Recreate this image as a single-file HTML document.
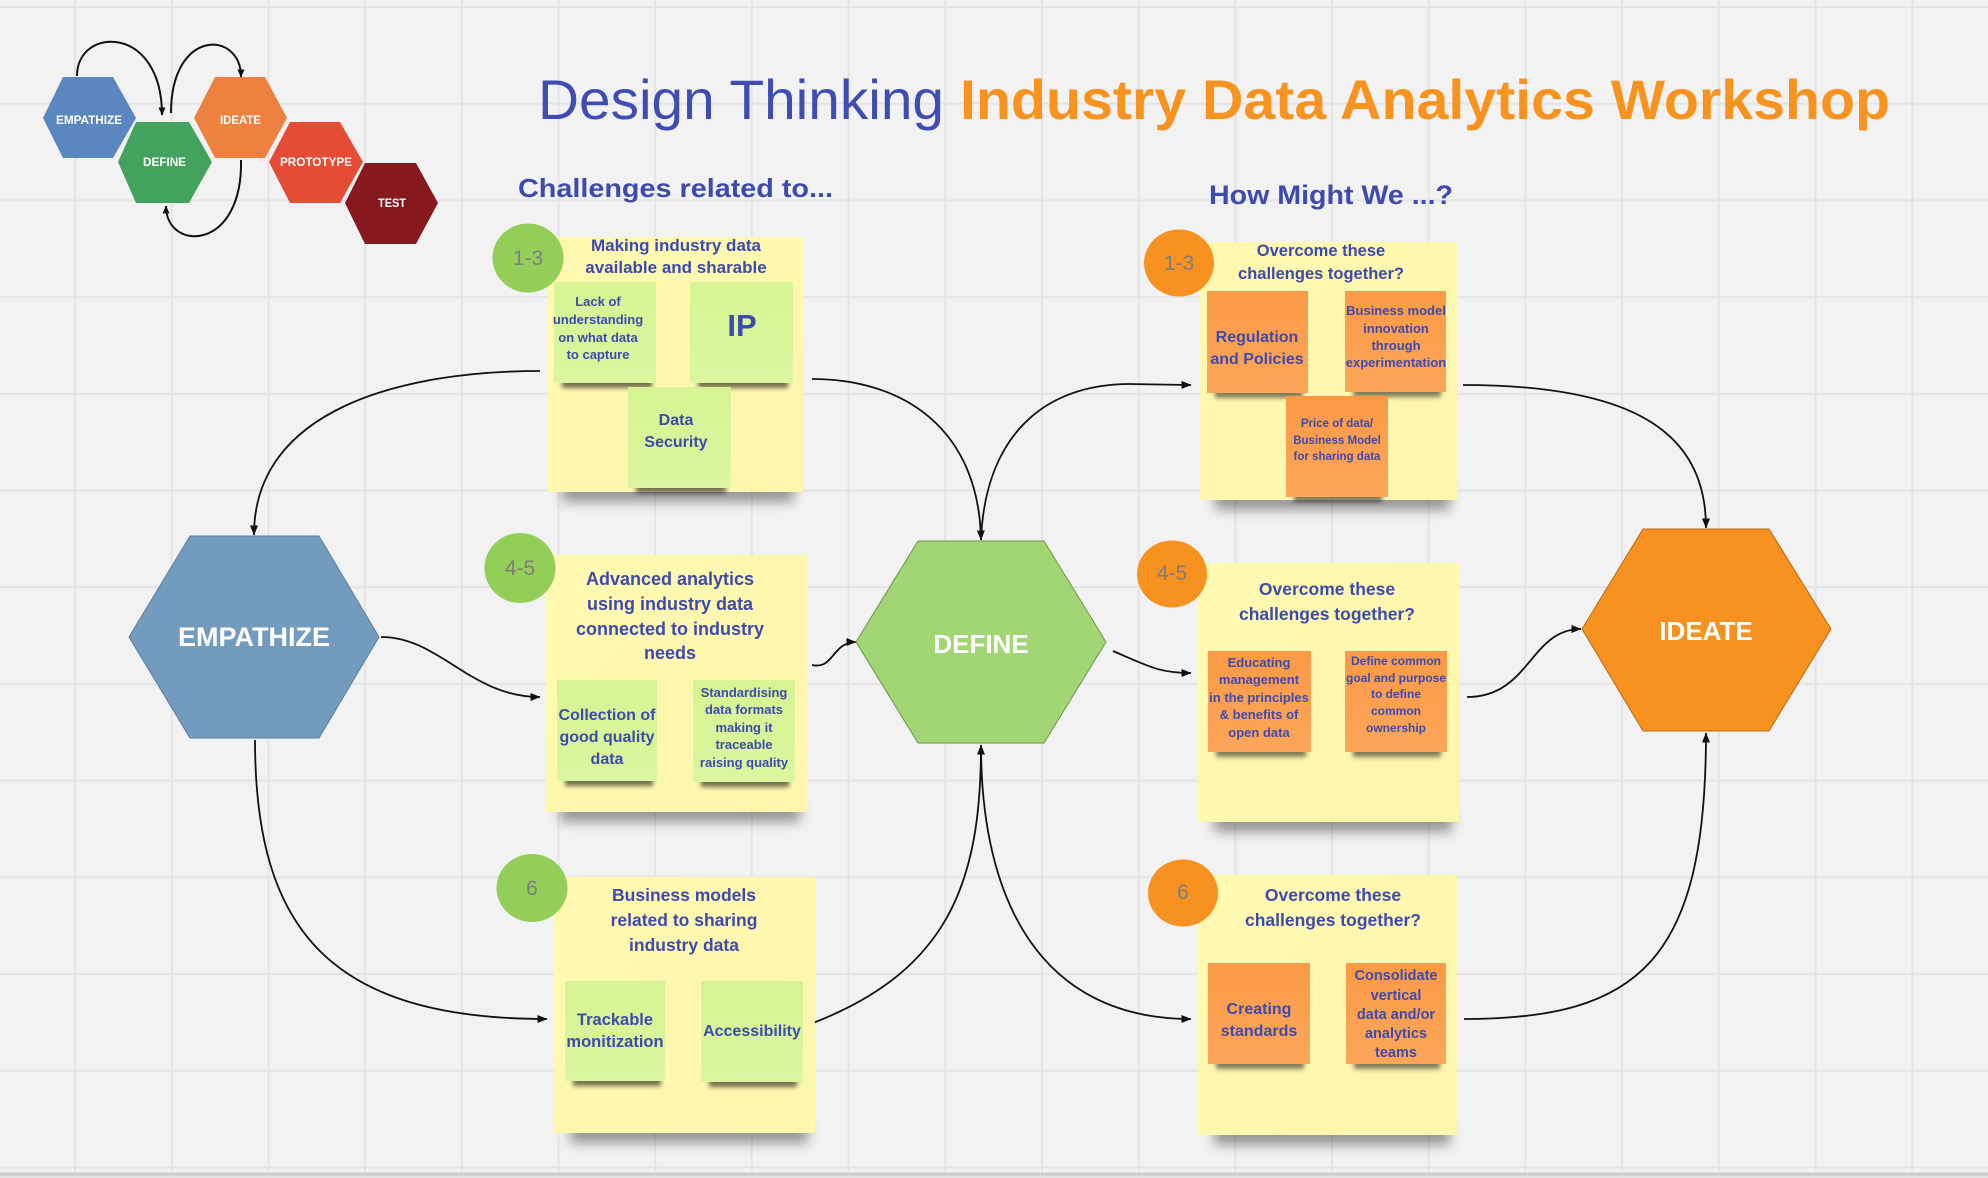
<!DOCTYPE html>
<html><head><meta charset="utf-8"><style>
html,body{margin:0;padding:0;background:#f2f2f2;}
svg{display:block}
text{font-family:"Liberation Sans",Arial,sans-serif;}
.b{font-weight:bold;fill:#3d4aae}
.w{font-weight:bold;fill:#ffffff}
.c{fill:#7d7d7d;font-size:21px}
.ln{fill:none;stroke:#111;stroke-width:1.8}
</style></head><body>
<svg width="1988" height="1178" viewBox="0 0 1988 1178" xmlns="http://www.w3.org/2000/svg">
<defs>
<pattern id="grid" x="74" y="6" width="96.7" height="96.7" patternUnits="userSpaceOnUse">
<rect x="0" y="0" width="2" height="96.7" fill="#e4e4e4"/>
<rect x="0" y="0" width="96.7" height="2" fill="#e4e4e4"/>
</pattern>
<marker id="ar" markerWidth="10" markerHeight="8" refX="9.5" refY="4" orient="auto" markerUnits="userSpaceOnUse"><path d="M0,0 L10,4 L0,8 Z" fill="#111"/></marker>
<marker id="ar2" markerWidth="8" markerHeight="7" refX="7.5" refY="3.5" orient="auto" markerUnits="userSpaceOnUse"><path d="M0,0 L8,3.5 L0,7 Z" fill="#111"/></marker>
<filter id="bl" x="-20%" y="-150%" width="140%" height="400%"><feGaussianBlur stdDeviation="6"/></filter>
<filter id="bl2" x="-20%" y="-150%" width="140%" height="400%"><feGaussianBlur stdDeviation="2.5"/></filter>
<linearGradient id="gy" x1="0" y1="0" x2="1" y2="1"><stop offset="0" stop-color="#fff8b0"/><stop offset="1" stop-color="#fdf6ae"/></linearGradient>
<linearGradient id="gg" x1="0" y1="0" x2="0" y2="1"><stop offset="0" stop-color="#d6f493"/><stop offset="1" stop-color="#dbf69f"/></linearGradient>
<linearGradient id="go" x1="0" y1="0" x2="0" y2="1"><stop offset="0" stop-color="#fb9a46"/><stop offset="1" stop-color="#fda65a"/></linearGradient>
</defs>
<rect width="1988" height="1178" fill="#f2f2f2"/>
<rect width="1988" height="1178" fill="url(#grid)"/>
<rect x="0" y="1172.5" width="1988" height="3" fill="#cbcbcb"/>
<rect x="0" y="1175.5" width="1988" height="3" fill="#e2e2e2"/>

<!-- Logo -->
<polygon points="43,118 63,77 113,77 136,118 113,158 63,158" fill="#5b87c0"/>
<polygon points="118,162 136,122 189,122 212,162 189,203 136,203" fill="#43a35e"/>
<polygon points="194,118 215,77 265,77 287,118 265,158 215,158" fill="#ee8140"/>
<polygon points="269,162 290,122 340,122 363,162 340,203 290,203" fill="#e64b35"/>
<polygon points="345,203 365,163 416,163 438,203 416,244 365,244" fill="#85191d"/>
<text class="w" x="56" y="124" font-size="12" textLength="66" lengthAdjust="spacingAndGlyphs">EMPATHIZE</text>
<text class="w" x="143" y="166" font-size="12" textLength="43" lengthAdjust="spacingAndGlyphs">DEFINE</text>
<text class="w" x="220" y="124" font-size="12" textLength="41" lengthAdjust="spacingAndGlyphs">IDEATE</text>
<text class="w" x="280" y="166" font-size="12" textLength="72" lengthAdjust="spacingAndGlyphs">PROTOTYPE</text>
<text class="w" x="378" y="207" font-size="12" textLength="28" lengthAdjust="spacingAndGlyphs">TEST</text>
<path d="M77,76 C77,26 162,24 162,115" fill="none" stroke="#111" stroke-width="2" marker-end="url(#ar2)"/>
<path d="M171,113 C171,28 241,30 241,77" fill="none" stroke="#111" stroke-width="2" marker-end="url(#ar2)"/>
<path d="M241,160 C243,252 166,252 166,206" fill="none" stroke="#111" stroke-width="2" marker-end="url(#ar2)"/>

<!-- Title -->
<text x="538" y="119" font-size="56" fill="#3f4cb3" textLength="406" lengthAdjust="spacingAndGlyphs">Design Thinking</text>
<text x="960" y="119" font-size="56" font-weight="bold" fill="#f7931e" textLength="930" lengthAdjust="spacingAndGlyphs">Industry Data Analytics Workshop</text>
<text class="b" x="518" y="197" font-size="26" textLength="315" lengthAdjust="spacingAndGlyphs">Challenges related to...</text>
<text class="b" x="1209" y="204" font-size="27" textLength="244" lengthAdjust="spacingAndGlyphs">How Might We ...?</text>

<!-- Connectors -->
<path class="ln" d="M540,371 C400,371 254,410 254,535" marker-end="url(#ar)"/>
<path class="ln" d="M812,379 C905,379 979,430 981,540" marker-end="url(#ar)"/>
<path class="ln" d="M981,540 C985,440 1040,384 1130,384 L1191,385" marker-end="url(#ar)"/>
<path class="ln" d="M1463,385 C1630,385 1706,430 1706,528" marker-end="url(#ar)"/>
<path class="ln" d="M381,637 C440,637 470,697 540,697" marker-end="url(#ar)"/>
<path class="ln" d="M812,665 C834,670 832,642 856,642" marker-end="url(#ar)"/>
<path class="ln" d="M1113,651 C1150,667 1160,673 1191,673" marker-end="url(#ar)"/>
<path class="ln" d="M1467,697 C1530,697 1530,629 1581,629" marker-end="url(#ar)"/>
<path class="ln" d="M255,740 C255,930 330,1019 547,1019" marker-end="url(#ar)"/>
<path class="ln" d="M813,1023 C950,970 981,880 981,745" marker-end="url(#ar)"/>
<path class="ln" d="M981,745 C981,900 1040,1019 1191,1019" marker-end="url(#ar)"/>
<path class="ln" d="M1464,1019 C1640,1019 1706,960 1706,733" marker-end="url(#ar)"/>

<!-- Big hexagons -->
<polygon points="129,637 190,536 319,536 379,637 319,738 190,738" fill="#729bbd" stroke="#5d7f9c" stroke-width="1"/>
<text class="w" x="254" y="646" font-size="27" text-anchor="middle">EMPATHIZE</text>
<polygon points="856,642 918,541 1044,541 1106,642 1044,743 918,743" fill="#a2d574" stroke="#6f9550" stroke-width="1"/>
<text class="w" x="981" y="653" font-size="26" text-anchor="middle">DEFINE</text>
<polygon points="1582,629 1643,529 1769,529 1831,629 1769,731 1643,731" fill="#f79220" stroke="#b56b16" stroke-width="1"/>
<text class="w" x="1706" y="640" font-size="26" text-anchor="middle">IDEATE</text>

<!-- ===== Left column ===== -->
<!-- S1 -->
<rect x="562" y="480" width="232" height="22" fill="#000" opacity="0.38" filter="url(#bl)"/>
<rect x="548" y="237" width="255" height="255" fill="url(#gy)"/>
<ellipse cx="528" cy="258" rx="35.5" ry="34.5" fill="#93cf58"/>
<text class="c" x="528" y="265" text-anchor="middle">1-3</text>
<text class="b" font-size="17" text-anchor="middle"><tspan x="676" y="251">Making industry data</tspan><tspan x="676" y="273">available and sharable</tspan></text>
<rect x="562" y="377" width="90" height="11" fill="#000" opacity="0.55" filter="url(#bl2)"/>
<rect x="698" y="377" width="90" height="11" fill="#000" opacity="0.55" filter="url(#bl2)"/>
<rect x="636" y="482" width="90" height="11" fill="#000" opacity="0.55" filter="url(#bl2)"/>
<rect x="554" y="282" width="102" height="101" fill="url(#gg)"/>
<rect x="690" y="282" width="103" height="101" fill="url(#gg)"/>
<rect x="628" y="387" width="103" height="101" fill="url(#gg)"/>
<text class="b" font-size="13" text-anchor="middle"><tspan x="598" y="306">Lack of</tspan><tspan x="598" y="324">understanding</tspan><tspan x="598" y="342">on what data</tspan><tspan x="598" y="359">to capture</tspan></text>
<text class="b" x="742" y="336" font-size="31" text-anchor="middle">IP</text>
<text class="b" font-size="16" text-anchor="middle"><tspan x="676" y="425">Data</tspan><tspan x="676" y="447">Security</tspan></text>

<!-- S2 -->
<rect x="560" y="800" width="240" height="22" fill="#000" opacity="0.38" filter="url(#bl)"/>
<rect x="546" y="555" width="262" height="257" fill="url(#gy)"/>
<ellipse cx="520" cy="568" rx="35.5" ry="35" fill="#93cf58"/>
<text class="c" x="520" y="575" text-anchor="middle">4-5</text>
<text class="b" font-size="18" text-anchor="middle"><tspan x="670" y="585">Advanced analytics</tspan><tspan x="670" y="610">using industry data</tspan><tspan x="670" y="635">connected to industry</tspan><tspan x="670" y="659">needs</tspan></text>
<rect x="565" y="775" width="88" height="11" fill="#000" opacity="0.55" filter="url(#bl2)"/>
<rect x="701" y="776" width="88" height="11" fill="#000" opacity="0.55" filter="url(#bl2)"/>
<rect x="557" y="680" width="100" height="101" fill="url(#gg)"/>
<rect x="693" y="680" width="102" height="102" fill="url(#gg)"/>
<text class="b" font-size="16" text-anchor="middle"><tspan x="607" y="720">Collection of</tspan><tspan x="607" y="742">good quality</tspan><tspan x="607" y="764">data</tspan></text>
<text class="b" font-size="13" text-anchor="middle"><tspan x="744" y="697">Standardising</tspan><tspan x="744" y="714">data formats</tspan><tspan x="744" y="732">making it</tspan><tspan x="744" y="749">traceable</tspan><tspan x="744" y="767">raising quality</tspan></text>

<!-- S3 -->
<rect x="570" y="1121" width="238" height="22" fill="#000" opacity="0.38" filter="url(#bl)"/>
<rect x="554" y="877" width="261" height="256" fill="url(#gy)"/>
<ellipse cx="532" cy="888" rx="35.5" ry="34" fill="#93cf58"/>
<text class="c" x="532" y="895" text-anchor="middle">6</text>
<text class="b" font-size="17.5" text-anchor="middle"><tspan x="684" y="901">Business models</tspan><tspan x="684" y="926">related to sharing</tspan><tspan x="684" y="951">industry data</tspan></text>
<rect x="573" y="1075" width="88" height="11" fill="#000" opacity="0.55" filter="url(#bl2)"/>
<rect x="709" y="1076" width="88" height="11" fill="#000" opacity="0.55" filter="url(#bl2)"/>
<rect x="565" y="981" width="100" height="100" fill="url(#gg)"/>
<rect x="701" y="981" width="102" height="101" fill="url(#gg)"/>
<text class="b" font-size="16.5" text-anchor="middle"><tspan x="615" y="1025">Trackable</tspan><tspan x="615" y="1047">monitization</tspan></text>
<text class="b" x="752" y="1036" font-size="16" text-anchor="middle">Accessibility</text>

<!-- ===== Right column ===== -->
<!-- R1 -->
<rect x="1215" y="488" width="235" height="22" fill="#000" opacity="0.38" filter="url(#bl)"/>
<rect x="1200" y="242" width="258" height="258" fill="url(#gy)"/>
<ellipse cx="1179" cy="263" rx="35" ry="33.5" fill="#f79221"/>
<text class="c" x="1179" y="270" text-anchor="middle">1-3</text>
<text class="b" font-size="16.5" text-anchor="middle"><tspan x="1321" y="256">Overcome these</tspan><tspan x="1321" y="279">challenges together?</tspan></text>
<rect x="1215" y="387" width="88" height="11" fill="#000" opacity="0.5" filter="url(#bl2)"/>
<rect x="1353" y="386" width="88" height="11" fill="#000" opacity="0.5" filter="url(#bl2)"/>
<rect x="1294" y="491" width="88" height="11" fill="#000" opacity="0.5" filter="url(#bl2)"/>
<rect x="1207" y="291" width="101" height="102" fill="url(#go)"/>
<rect x="1345" y="291" width="101" height="101" fill="url(#go)"/>
<rect x="1286" y="396" width="102" height="101" fill="url(#go)"/>
<text class="b" font-size="16" text-anchor="middle"><tspan x="1257" y="342">Regulation</tspan><tspan x="1257" y="364">and Policies</tspan></text>
<text class="b" font-size="13" text-anchor="middle"><tspan x="1396" y="315">Business model</tspan><tspan x="1396" y="333">innovation</tspan><tspan x="1396" y="350">through</tspan><tspan x="1396" y="367">experimentation</tspan></text>
<text class="b" font-size="11.5" text-anchor="middle"><tspan x="1337" y="427">Price of data/</tspan><tspan x="1337" y="444">Business Model</tspan><tspan x="1337" y="460">for sharing data</tspan></text>

<!-- R2 -->
<rect x="1214" y="810" width="238" height="22" fill="#000" opacity="0.38" filter="url(#bl)"/>
<rect x="1198" y="563" width="261" height="259" fill="url(#gy)"/>
<ellipse cx="1172" cy="574" rx="35" ry="33.5" fill="#f79221"/>
<text class="c" x="1172" y="580" text-anchor="middle">4-5</text>
<text class="b" font-size="17.5" text-anchor="middle"><tspan x="1327" y="595">Overcome these</tspan><tspan x="1327" y="620">challenges together?</tspan></text>
<rect x="1216" y="746" width="90" height="11" fill="#000" opacity="0.5" filter="url(#bl2)"/>
<rect x="1353" y="746" width="88" height="11" fill="#000" opacity="0.5" filter="url(#bl2)"/>
<rect x="1208" y="651" width="103" height="101" fill="url(#go)"/>
<rect x="1345" y="651" width="102" height="101" fill="url(#go)"/>
<text class="b" font-size="13" text-anchor="middle"><tspan x="1259" y="667">Educating</tspan><tspan x="1259" y="684">management</tspan><tspan x="1259" y="702">in the principles</tspan><tspan x="1259" y="719">&amp; benefits of</tspan><tspan x="1259" y="737">open data</tspan></text>
<text class="b" font-size="12" text-anchor="middle"><tspan x="1396" y="665">Define common</tspan><tspan x="1396" y="682">goal and purpose</tspan><tspan x="1396" y="698">to define</tspan><tspan x="1396" y="715">common</tspan><tspan x="1396" y="732">ownership</tspan></text>

<!-- R3 -->
<rect x="1214" y="1123" width="236" height="22" fill="#000" opacity="0.38" filter="url(#bl)"/>
<rect x="1198" y="875" width="259" height="260" fill="url(#gy)"/>
<ellipse cx="1183" cy="893" rx="35" ry="33.5" fill="#f79221"/>
<text class="c" x="1183" y="899" text-anchor="middle">6</text>
<text class="b" font-size="17.5" text-anchor="middle"><tspan x="1333" y="901">Overcome these</tspan><tspan x="1333" y="926">challenges together?</tspan></text>
<rect x="1216" y="1058" width="88" height="11" fill="#000" opacity="0.5" filter="url(#bl2)"/>
<rect x="1354" y="1058" width="86" height="11" fill="#000" opacity="0.5" filter="url(#bl2)"/>
<rect x="1208" y="963" width="102" height="101" fill="url(#go)"/>
<rect x="1346" y="963" width="100" height="101" fill="url(#go)"/>
<text class="b" font-size="16" text-anchor="middle"><tspan x="1259" y="1014">Creating</tspan><tspan x="1259" y="1036">standards</tspan></text>
<text class="b" font-size="14.5" text-anchor="middle"><tspan x="1396" y="980">Consolidate</tspan><tspan x="1396" y="1000">vertical</tspan><tspan x="1396" y="1019">data and/or</tspan><tspan x="1396" y="1038">analytics</tspan><tspan x="1396" y="1057">teams</tspan></text>
</svg>
</body></html>
